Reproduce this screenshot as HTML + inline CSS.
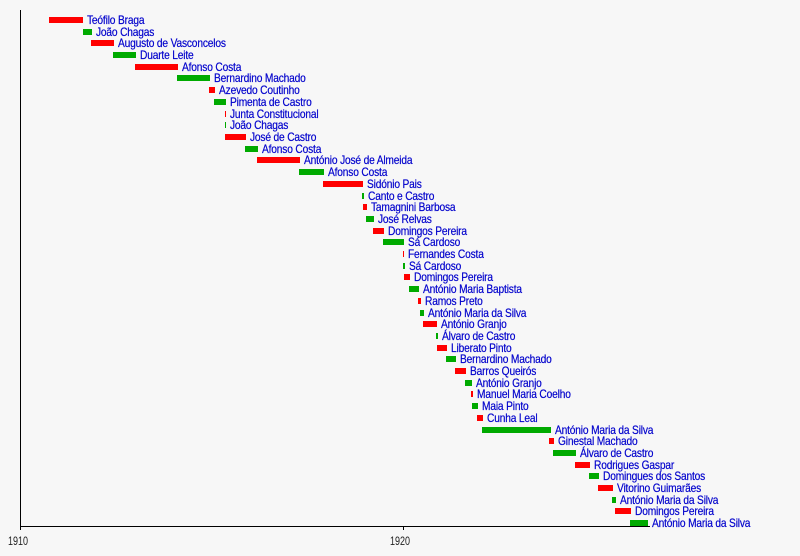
<!DOCTYPE html>
<html><head><meta charset="utf-8"><style>
body{margin:0;background:#f7f7f7;width:800px;height:556px;position:relative;overflow:hidden;font-family:"Liberation Sans",sans-serif}
.b{position:absolute;height:6px}
.r{background:#ff0000}.g{background:#00aa00}
.t{position:absolute;font-size:12px;line-height:12px;color:#0000cc;white-space:nowrap;transform:scaleX(0.85);transform-origin:left center;-webkit-text-stroke:0.2px #0000cc;letter-spacing:-0.2px}
.ax{position:absolute;background:#000}
.tk{position:absolute;font-size:12px;color:#222;transform:scaleX(0.75);transform-origin:left center}
</style></head><body>
<div class="ax" style="left:20px;top:10px;width:1px;height:517px"></div>
<div class="ax" style="left:20px;top:526px;width:630px;height:1px"></div>
<div class="ax" style="left:20px;top:526px;width:1px;height:4px"></div>
<div class="ax" style="left:403px;top:526px;width:1px;height:4px"></div>
<div class="tk" style="left:8px;top:534px">1910</div>
<div class="tk" style="left:390px;top:534px">1920</div>

<div class="b r" style="left:49px;top:17px;width:34px"></div><div class="t" style="left:87px;top:14px">Teófilo Braga</div>
<div class="b g" style="left:83px;top:29px;width:9px"></div><div class="t" style="left:96px;top:26px">João Chagas</div>
<div class="b r" style="left:91px;top:40px;width:23px"></div><div class="t" style="left:118px;top:37px">Augusto de Vasconcelos</div>
<div class="b g" style="left:113px;top:52px;width:23px"></div><div class="t" style="left:140px;top:49px">Duarte Leite</div>
<div class="b r" style="left:135px;top:64px;width:43px"></div><div class="t" style="left:182px;top:61px">Afonso Costa</div>
<div class="b g" style="left:177px;top:75px;width:33px"></div><div class="t" style="left:214px;top:72px">Bernardino Machado</div>
<div class="b r" style="left:209px;top:87px;width:6px"></div><div class="t" style="left:219px;top:84px">Azevedo Coutinho</div>
<div class="b g" style="left:214px;top:99px;width:12px"></div><div class="t" style="left:230px;top:96px">Pimenta de Castro</div>
<div class="b r" style="left:225px;top:111px;width:1px"></div><div class="t" style="left:230px;top:108px">Junta Constitucional</div>
<div class="b g" style="left:225px;top:122px;width:1px"></div><div class="t" style="left:230px;top:119px">João Chagas</div>
<div class="b r" style="left:225px;top:134px;width:21px"></div><div class="t" style="left:250px;top:131px">José de Castro</div>
<div class="b g" style="left:245px;top:146px;width:13px"></div><div class="t" style="left:262px;top:143px">Afonso Costa</div>
<div class="b r" style="left:257px;top:157px;width:43px"></div><div class="t" style="left:304px;top:154px">António José de Almeida</div>
<div class="b g" style="left:299px;top:169px;width:25px"></div><div class="t" style="left:328px;top:166px">Afonso Costa</div>
<div class="b r" style="left:323px;top:181px;width:40px"></div><div class="t" style="left:367px;top:178px">Sidónio Pais</div>
<div class="b g" style="left:362px;top:193px;width:2px"></div><div class="t" style="left:368px;top:190px">Canto e Castro</div>
<div class="b r" style="left:363px;top:204px;width:4px"></div><div class="t" style="left:371px;top:201px">Tamagnini Barbosa</div>
<div class="b g" style="left:366px;top:216px;width:8px"></div><div class="t" style="left:378px;top:213px">José Relvas</div>
<div class="b r" style="left:373px;top:228px;width:11px"></div><div class="t" style="left:388px;top:225px">Domingos Pereira</div>
<div class="b g" style="left:383px;top:239px;width:21px"></div><div class="t" style="left:408px;top:236px">Sá Cardoso</div>
<div class="b r" style="left:403px;top:251px;width:1px"></div><div class="t" style="left:408px;top:248px">Fernandes Costa</div>
<div class="b g" style="left:403px;top:263px;width:2px"></div><div class="t" style="left:409px;top:260px">Sá Cardoso</div>
<div class="b r" style="left:404px;top:274px;width:6px"></div><div class="t" style="left:414px;top:271px">Domingos Pereira</div>
<div class="b g" style="left:409px;top:286px;width:10px"></div><div class="t" style="left:423px;top:283px">António Maria Baptista</div>
<div class="b r" style="left:418px;top:298px;width:3px"></div><div class="t" style="left:425px;top:295px">Ramos Preto</div>
<div class="b g" style="left:420px;top:310px;width:4px"></div><div class="t" style="left:428px;top:307px">António Maria da Silva</div>
<div class="b r" style="left:423px;top:321px;width:14px"></div><div class="t" style="left:441px;top:318px">António Granjo</div>
<div class="b g" style="left:436px;top:333px;width:2px"></div><div class="t" style="left:442px;top:330px">Álvaro de Castro</div>
<div class="b r" style="left:437px;top:345px;width:10px"></div><div class="t" style="left:451px;top:342px">Liberato Pinto</div>
<div class="b g" style="left:446px;top:356px;width:10px"></div><div class="t" style="left:460px;top:353px">Bernardino Machado</div>
<div class="b r" style="left:455px;top:368px;width:11px"></div><div class="t" style="left:470px;top:365px">Barros Queirós</div>
<div class="b g" style="left:465px;top:380px;width:7px"></div><div class="t" style="left:476px;top:377px">António Granjo</div>
<div class="b r" style="left:471px;top:391px;width:2px"></div><div class="t" style="left:477px;top:388px">Manuel Maria Coelho</div>
<div class="b g" style="left:472px;top:403px;width:6px"></div><div class="t" style="left:482px;top:400px">Maia Pinto</div>
<div class="b r" style="left:477px;top:415px;width:6px"></div><div class="t" style="left:487px;top:412px">Cunha Leal</div>
<div class="b g" style="left:482px;top:427px;width:69px"></div><div class="t" style="left:555px;top:424px">António Maria da Silva</div>
<div class="b r" style="left:549px;top:438px;width:5px"></div><div class="t" style="left:558px;top:435px">Ginestal Machado</div>
<div class="b g" style="left:553px;top:450px;width:23px"></div><div class="t" style="left:580px;top:447px">Álvaro de Castro</div>
<div class="b r" style="left:575px;top:462px;width:15px"></div><div class="t" style="left:594px;top:459px">Rodrigues Gaspar</div>
<div class="b g" style="left:589px;top:473px;width:10px"></div><div class="t" style="left:603px;top:470px">Domingues dos Santos</div>
<div class="b r" style="left:598px;top:485px;width:15px"></div><div class="t" style="left:617px;top:482px">Vitorino Guimarães</div>
<div class="b g" style="left:612px;top:497px;width:4px"></div><div class="t" style="left:620px;top:494px">António Maria da Silva</div>
<div class="b r" style="left:615px;top:508px;width:16px"></div><div class="t" style="left:635px;top:505px">Domingos Pereira</div>
<div class="b g" style="left:630px;top:520px;width:18px"></div><div class="t" style="left:652px;top:517px">António Maria da Silva</div>
</body></html>
